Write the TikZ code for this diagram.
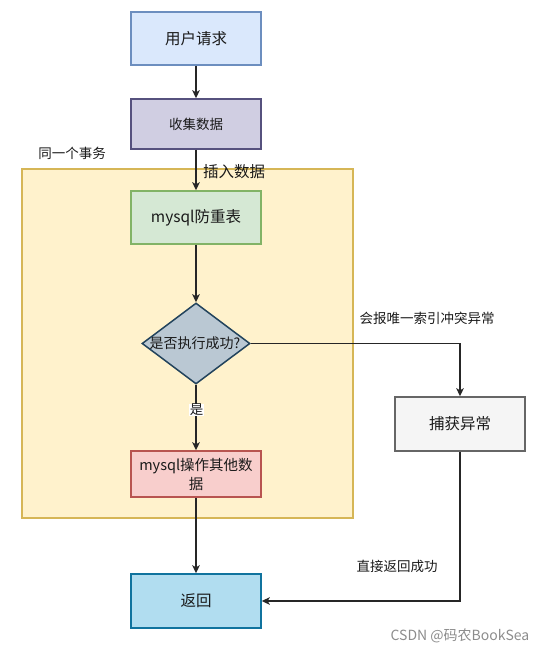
\documentclass[tikz,border=0pt]{standalone}
\usepackage{fontspec}
\setmainfont{Noto Sans CJK SC}
\usetikzlibrary{shapes.geometric,arrows.meta}
\definecolor{bluef}{HTML}{DAE8FC}\definecolor{blued}{HTML}{6C8EBF}
\definecolor{purf}{HTML}{D0CEE2}\definecolor{purd}{HTML}{56517E}
\definecolor{yelf}{HTML}{FFF2CC}\definecolor{yeld}{HTML}{D6B656}
\definecolor{grnf}{HTML}{D5E8D4}\definecolor{grnd}{HTML}{82B366}
\definecolor{decf}{HTML}{BAC8D3}\definecolor{decd}{HTML}{23445D}
\definecolor{redf}{HTML}{F8CECC}\definecolor{redd}{HTML}{B85450}
\definecolor{grayf}{HTML}{F5F5F5}\definecolor{grayd}{HTML}{666666}
\definecolor{retf}{HTML}{B1DDF0}\definecolor{retd}{HTML}{10739E}
\definecolor{txt}{HTML}{1A1A1A}
\tikzset{
  box/.style={draw, line width=1.5pt, minimum width=130pt, inner sep=2pt, align=center, text=txt},
  big/.style={font=\fontsize{15.5pt}{18pt}\selectfont},
  small/.style={font=\fontsize{13.5pt}{17pt}\selectfont},
  conn/.style={line width=1.8pt, draw=black!85, -{Stealth[length=8pt,width=7.5pt,inset=2pt]}},
  lbl/.style={text=txt, inner sep=1pt}
}
\begin{document}
\begin{tikzpicture}[x=1pt,y=-1pt]
\useasboundingbox (0,0) rectangle (547,652);
% container
\node[draw=yeld, fill=yelf, line width=1.5pt, minimum width=331pt, minimum height=349pt, inner sep=0pt] (trx) at (187.5,343.5) {};
\node[lbl, small] (trxlbl) at (72,153) {同一个事务};
% nodes
\node[box, big, fill=bluef, draw=blued, minimum height=53pt] (user) at (196,38.5) {用户请求};
\node[box, small, fill=purf, draw=purd, minimum height=50pt] (collect) at (196,124) {收集数据};
\node[box, big, fill=grnf, draw=grnd, minimum height=53pt] (dedup) at (196,217.5) {mysql防重表};
\node[diamond, draw=decd, fill=decf, line width=1.5pt, minimum width=108pt, minimum height=81pt, inner sep=0pt] (dec) at (196,343.5) {};
\node[lbl, font=\fontsize{14pt}{17pt}\selectfont] (dectext) at (195,343.5) {是否执行成功?};
\node[box, font=\fontsize{14.5pt}{19pt}\selectfont, fill=redf, draw=redd, minimum height=46pt] (other) at (196,474) {mysql操作其他数\\据};
\node[box, big, fill=grayf, draw=grayd, minimum height=54pt] (catch) at (460,424) {捕获异常};
\node[box, big, fill=retf, draw=retd, minimum height=54pt] (ret) at (196,601) {返回};
% connectors
\draw[conn] (user) -- (collect);
\draw[conn] (collect) -- (dedup);
\node[lbl, big, anchor=west] (inslbl) at (202,172) {插入数据};
\draw[conn] (dedup) -- (dec);
\draw[conn] (dec.east) -| (catch.north);
\node[lbl, small] (errlbl) at (427,318) {会报唯一索引冲突异常};
\draw[conn] (dec.south) -- (other.north);
\node[lbl, small, fill=white, inner sep=0.5pt] (yes) at (196.5,410) {是};
\draw[conn] (other) -- (ret);
\draw[conn] (catch.south) |- (ret.east);
\node[lbl, small] (oklbl) at (397,566) {直接返回成功};
\node[text=black!45, font=\fontsize{14pt}{17pt}\selectfont, inner sep=0pt] (wm) at (460,636) {CSDN @码农BookSea};
\end{tikzpicture}
\end{document}
